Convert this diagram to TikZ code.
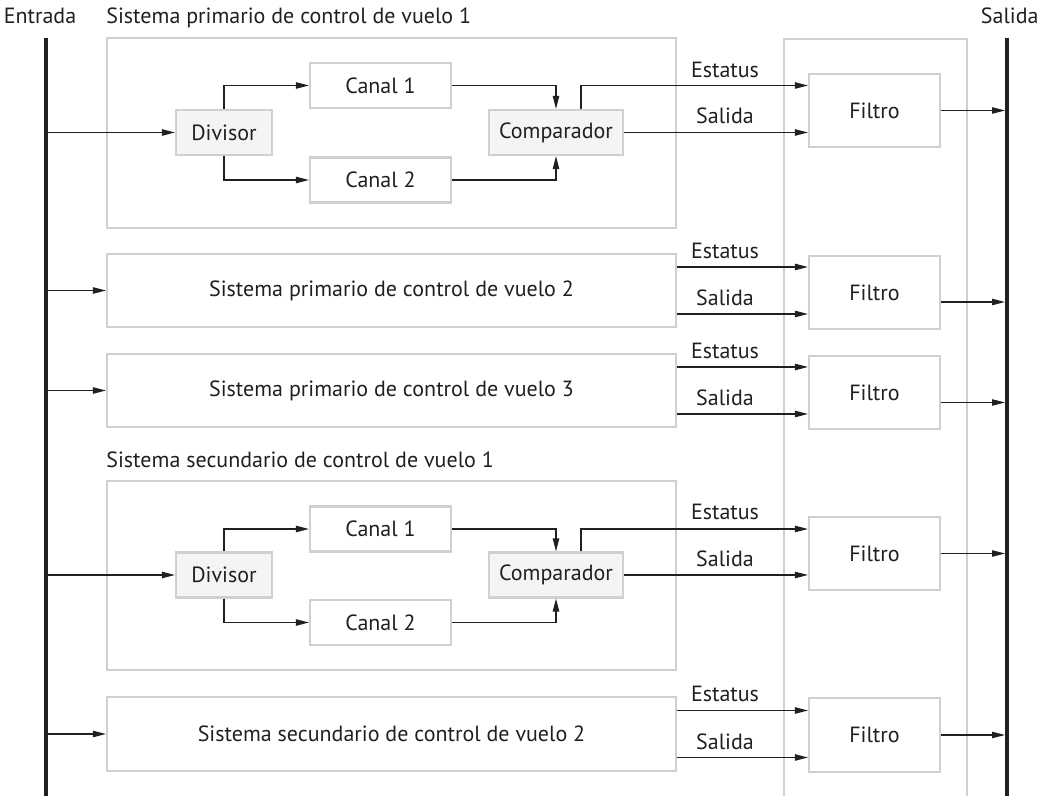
\documentclass[tikz,border=0pt]{standalone}
\usepackage{fontspec}
\setmainfont{PT Sans}
\usetikzlibrary{arrows.meta,positioning,calc}
\definecolor{boxgray}{RGB}{208,208,208}
\definecolor{blockfill}{RGB}{244,244,244}
\definecolor{ink}{RGB}{35,31,32}

\begin{document}
\begin{tikzpicture}[x=0.5pt,y=-0.5pt,
    every node/.style={font=\fontsize{11}{13}\selectfont, text=ink},
    sysbox/.style={draw=boxgray, line width=1.1pt, inner sep=0pt, minimum width=284.5pt},
    blk/.style={draw=boxgray, line width=1.1pt, fill=white, inner sep=0pt, minimum height=22.5pt},
    greyblk/.style={blk, fill=blockfill},
    filtro/.style={blk, minimum width=65.5pt, minimum height=36.5pt},
    sig/.style={draw=ink, line width=0.6pt, -{Triangle[length=6.5pt,width=3.2pt]}},
    bus/.style={draw=ink, line width=2pt}]
    \useasboundingbox (0,0) rectangle (1040,796);

    % buses and column of filters
    \coordinate (inT) at (46,38);
    \coordinate (inB) at (46,800);
    \coordinate (outT) at (1005,38);
    \coordinate (outB) at (1005,800);
    \node[draw=boxgray, line width=1.1pt, inner sep=0pt, anchor=north west,
          minimum width=91.5pt, minimum height=381pt] (col) at (783,38) {};
    \node[anchor=base] (ent) at (40,24) {Entrada};
    \node[anchor=base east, inner sep=0pt] (sal) at (1039,24) {Salida};

    % primario 1
    \node[sysbox, minimum height=95pt] (p1) at (391.5,133) {};
    \node[anchor=base west, inner sep=0pt] (tp1) at (106,24) {Sistema primario de control de vuelo 1};
    \node[greyblk, minimum width=48pt] (div1) at (224,132.5) {Divisor};
    \node[blk, minimum width=70.5pt] (c11) at (380.5,85.5) {Canal 1};
    \node[blk, minimum width=70.5pt] (c12) at (380.5,180) {Canal 2};
    \node[greyblk, minimum width=67pt] (cmp1) at (556,132.5) {Comparador};
    \node[filtro] (f1) at (874.5,110.5) {Filtro};
    \draw[sig] (inT |- div1) -- (div1);
    \draw[sig] (div1.north) |- (c11);
    \draw[sig] (div1.south) |- (c12);
    \draw[sig] (c11) -| (cmp1);
    \draw[sig] (c12) -| (cmp1);
    \draw[sig] ([xshift=12.5pt]cmp1.north) |- (f1.west |- c11);
    \draw[sig] (cmp1) -- (f1.west |- cmp1);
    \draw[sig] (f1) -- (outT |- f1);
    \node[anchor=base] (st1) at (725,78) {Estatus};
    \node[anchor=base] (sa1) at (725,124) {Salida};

    % primario 2
    \node[sysbox, minimum height=36.5pt] (p2) at (391.5,290.5) {Sistema primario de control de vuelo 2};
    \node[filtro] (f2) at (874.5,292.5) {Filtro};
    \coordinate (e2) at ([yshift=11.75pt]p2.east);
    \coordinate (s2) at ([yshift=-11.75pt]p2.east);
    \coordinate (o2) at ([yshift=-4.75pt]f2.east);
    \draw[sig] (inT |- p2) -- (p2);
    \draw[sig] (e2) -- (e2 -| f2.west);
    \draw[sig] (s2) -- (s2 -| f2.west);
    \draw[sig] (o2) -- (o2 -| outT);
    \node[anchor=base] (st2) at (725,259) {Estatus};
    \node[anchor=base] (sa2) at (725,306) {Salida};

    % primario 3
    \node[sysbox, minimum height=36.5pt] (p3) at (391.5,390.5) {Sistema primario de control de vuelo 3};
    \node[filtro] (f3) at (874.5,392.5) {Filtro};
    \coordinate (e3) at ([yshift=11.75pt]p3.east);
    \coordinate (s3) at ([yshift=-11.75pt]p3.east);
    \coordinate (o3) at ([yshift=-5pt]f3.east);
    \draw[sig] (inT |- p3) -- (p3);
    \draw[sig] (e3) -- (e3 -| f3.west);
    \draw[sig] (s3) -- (s3 -| f3.west);
    \draw[sig] (o3) -- (o3 -| outT);
    \node[anchor=base] (st3) at (725,359) {Estatus};
    \node[anchor=base] (sa3) at (725,406) {Salida};

    % secundario 1
    \node[sysbox, minimum height=94.5pt] (s1) at (391.5,575.5) {};
    \node[anchor=base west, inner sep=0pt] (ts1) at (106,468) {Sistema secundario de control de vuelo 1};
    \node[greyblk, minimum width=48pt] (div2) at (224,575) {Divisor};
    \node[blk, minimum width=70.5pt] (c21) at (380.5,529) {Canal 1};
    \node[blk, minimum width=70.5pt] (c22) at (380.5,622.5) {Canal 2};
    \node[greyblk, minimum width=67pt] (cmp2) at (556,575) {Comparador};
    \node[filtro] (f4) at (874.5,553.5) {Filtro};
    \draw[sig] (inT |- div2) -- (div2);
    \draw[sig] (div2.north) |- (c21);
    \draw[sig] (div2.south) |- (c22);
    \draw[sig] (c21) -| (cmp2);
    \draw[sig] (c22) -| (cmp2);
    \draw[sig] ([xshift=12.5pt]cmp2.north) |- (f4.west |- c21);
    \draw[sig] (cmp2) -- (f4.west |- cmp2);
    \draw[sig] (f4) -- (outT |- f4);
    \node[anchor=base] (st4) at (725,520) {Estatus};
    \node[anchor=base] (sa4) at (725,567) {Salida};

    % secundario 2
    \node[sysbox, minimum height=37pt] (s2b) at (391.5,734) {Sistema secundario de control de vuelo 2};
    \node[filtro, minimum height=37pt] (f5) at (874.5,735) {Filtro};
    \coordinate (e5) at ([yshift=11.75pt]s2b.east);
    \coordinate (s5) at ([yshift=-11.75pt]s2b.east);
    \draw[sig] (inT |- s2b) -- (s2b);
    \draw[sig] (e5) -- (e5 -| f5.west);
    \draw[sig] (s5) -- (s5 -| f5.west);
    \draw[sig] (f5) -- (outT |- f5);
    \node[anchor=base] (st5) at (725,702) {Estatus};
    \node[anchor=base] (sa5) at (725,749) {Salida};

    \draw[bus] (inT) -- (inB);
    \draw[bus] ([xshift=1pt]outT) -- ([xshift=1pt]outB);
\end{tikzpicture}
\end{document}
